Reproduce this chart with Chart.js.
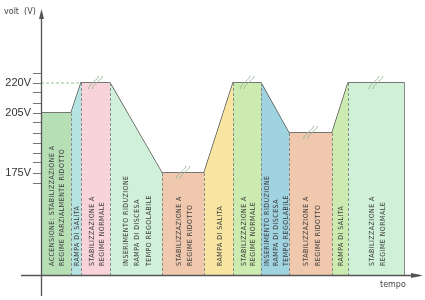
<!DOCTYPE html>
<html>
<head>
<meta charset="utf-8">
<script src="https://cdn.jsdelivr.net/npm/chart.js@4.4.1/dist/chart.umd.min.js"></script>
<style>
  html, body { margin: 0; padding: 0; background: #fff; }
  #wrap { width: 425px; height: 300px; }
</style>
</head>
<body>
<div id="wrap"><canvas id="voltChart"></canvas></div>
<script>
// profile breakpoints (time in arbitrary units, volts)
var times = [0, 30, 40, 69, 121, 163, 192, 220, 248, 291, 307, 363];
var volts = [205, 205, 220, 220, 175, 175, 220, 220, 195, 195, 220, 220];

var phaseColors = ["#b7dfb6", "#b5e3e2", "#f8d3d9", "#d1f0d9", "#f0c8ae", "#f7e5a1",
                   "#cbebb0", "#9fd3e0", "#f0c8ae", "#cbebb0", "#d0f1d7"];

var phaseLabels = [
  ["ACCENSIONE: STABILIZZAZIONE A", "REGIME PARZIALMENTE RIDOTTO"],
  ["RAMPA DI SALITA"],
  ["STABILIZZAZIONE A", "REGIME NORMALE"],
  ["INSERIMENTO RIDUZIONE", "RAMPA DI DISCESA", "TEMPO REGOLABILE"],
  ["STABILIZZAZIONE A", "REGIME RIDOTTO"],
  ["RAMPA DI SALITA"],
  ["STABILIZZAZIONE A", "REGIME NORMALE"],
  ["INSERIMENTO RIDUZIONE", "RAMPA DI DISCESA", "TEMPO REGOLABILE"],
  ["STABILIZZAZIONE A", "REGIME RIDOTTO"],
  ["RAMPA DI SALITA"],
  ["STABILIZZAZIONE A", "REGIME NORMALE"]
];

var yTicks = [170, 175, 180, 185, 190, 195, 200, 205, 210, 215, 220, 225];
var yLabelled = [175, 205, 220];

var yMin = 124, yMax = 256, tMax = 380;

var datasets = [];
for (var i = 0; i < phaseColors.length; i++) {
  datasets.push({
    data: [{x: times[i], y: volts[i]}, {x: times[i + 1], y: volts[i + 1]}],
    fill: "start",
    backgroundColor: phaseColors[i],
    borderWidth: 0,
    pointRadius: 0
  });
}

// dashed reference at 220V up to the first ramp
datasets.push({
  data: [{x: times[0], y: 220}, {x: times[2], y: 220}],
  borderColor: "#8fc48f",
  borderWidth: 1,
  borderDash: [3, 2],
  pointRadius: 0,
  fill: false
});

// profile outline
var outline = [];
for (var j = 0; j < times.length; j++) outline.push({x: times[j], y: volts[j]});
outline.push({x: times[times.length - 1], y: yMin});
datasets.push({
  data: outline,
  borderColor: "#4a4a4a",
  borderWidth: 1.3,
  pointRadius: 0,
  fill: false
});

var decor = {
  id: "decor",
  afterDatasetsDraw: function(chart) {
    var ctx = chart.ctx, xs = chart.scales.x, ys = chart.scales.y;
    var area = chart.chartArea;
    ctx.save();

    // dashed separators
    ctx.strokeStyle = "#8a8a8a";
    ctx.lineWidth = 1;
    ctx.setLineDash([3, 2]);
    for (var k = 1; k < times.length - 1; k++) {
      var px = Math.round(xs.getPixelForValue(times[k])) + 0.5;
      ctx.beginPath();
      ctx.moveTo(px, ys.getPixelForValue(volts[k]));
      ctx.lineTo(px, area.bottom);
      ctx.stroke();
    }
    ctx.setLineDash([]);

    // break marks on flat parts
    ctx.strokeStyle = "#9fb89f";
    ctx.lineWidth = 1;
    for (var m = 2; m < phaseLabels.length; m++) {
      if (volts[m] !== volts[m + 1]) continue;
      var cx = xs.getPixelForValue((times[m] + times[m + 1]) / 2);
      var cy = ys.getPixelForValue(volts[m]);
      for (var o = 0; o < 2; o++) {
        var dx = o * 4 - 2;
        ctx.beginPath();
        ctx.moveTo(cx + dx - 5, cy + 6);
        ctx.bezierCurveTo(cx + dx - 4, cy + 1, cx + dx - 1, cy + 1, cx + dx, cy - 1);
        ctx.bezierCurveTo(cx + dx + 1, cy - 3, cx + dx + 4, cy - 3, cx + dx + 5, cy - 7);
        ctx.stroke();
      }
    }

    // rotated phase labels
    ctx.fillStyle = "#3a3a3a";
    ctx.font = "7px 'DejaVu Sans Condensed', 'Liberation Sans Narrow', sans-serif";
    ctx.letterSpacing = "0.45px";
    ctx.textBaseline = "middle";
    ctx.textAlign = "left";
    var baseY = ys.getPixelForValue(128.5);
    for (var p = 0; p < phaseLabels.length; p++) {
      var x0 = xs.getPixelForValue(times[p]), x1 = xs.getPixelForValue(times[p + 1]);
      var lines = phaseLabels[p];
      var gap = Math.min(11.5, (x1 - x0) / 3);
      var mid = (x0 + x1) / 2 + 1.5;
      for (var q = 0; q < lines.length; q++) {
        var lx = mid + (q - (lines.length - 1) / 2) * gap;
        ctx.save();
        ctx.translate(lx, baseY);
        ctx.rotate(-Math.PI / 2);
        ctx.fillText(lines[q], 0, 0);
        ctx.restore();
      }
    }
    ctx.letterSpacing = "0px";

    // axes with arrows
    var ax = area.left + 0.5, ay = Math.round(area.bottom) + 0.5;
    ctx.strokeStyle = "#555";
    ctx.fillStyle = "#555";
    ctx.lineWidth = 1.3;
    ctx.beginPath();
    ctx.moveTo(ax, 296);
    ctx.lineTo(ax, area.top + 2);
    ctx.moveTo(21, ay);
    ctx.lineTo(area.right - 2, ay);
    ctx.stroke();
    ctx.beginPath();
    ctx.moveTo(ax, area.top - 2);
    ctx.lineTo(ax - 2.5, area.top + 8);
    ctx.lineTo(ax + 2.5, area.top + 8);
    ctx.closePath();
    ctx.fill();
    ctx.beginPath();
    ctx.moveTo(area.right + 2, ay);
    ctx.lineTo(area.right - 10, ay - 2.5);
    ctx.lineTo(area.right - 10, ay + 2.5);
    ctx.closePath();
    ctx.fill();

    // axis names
    ctx.fillStyle = "#444";
    ctx.font = "8px 'DejaVu Sans', sans-serif";
    ctx.textBaseline = "middle";
    ctx.fillText("volt  (V)", 4, 12);
    ctx.fillText("tempo", 380, 285);
    ctx.restore();
  }
};

new Chart("voltChart", {
  type: "line",
  data: { datasets: datasets },
  options: {
    responsive: true,
    maintainAspectRatio: false,
    animation: false,
    events: [],
    layout: { padding: { top: 11, right: 4, bottom: 25, left: 0 } },
    plugins: { legend: { display: false }, tooltip: { enabled: false } },
    scales: {
      x: { type: "linear", min: 0, max: tMax, display: false },
      y: {
        type: "linear",
        min: yMin,
        max: yMax,
        afterFit: function(scale) { scale.width = 41; },
        afterBuildTicks: function(scale) {
          scale.ticks = yTicks.map(function(v) { return {value: v}; });
        },
        border: { display: false },
        grid: { drawOnChartArea: false, drawTicks: true, tickLength: 8, color: "#777", lineWidth: 1 },
        ticks: {
          padding: 2,
          color: "#333",
          font: { family: "'Liberation Sans', Arial, sans-serif", size: 11 },
          callback: function(v) { return yLabelled.indexOf(v) >= 0 ? v + "V" : ""; }
        }
      }
    }
  },
  plugins: [decor]
});
</script>
</body>
</html>
